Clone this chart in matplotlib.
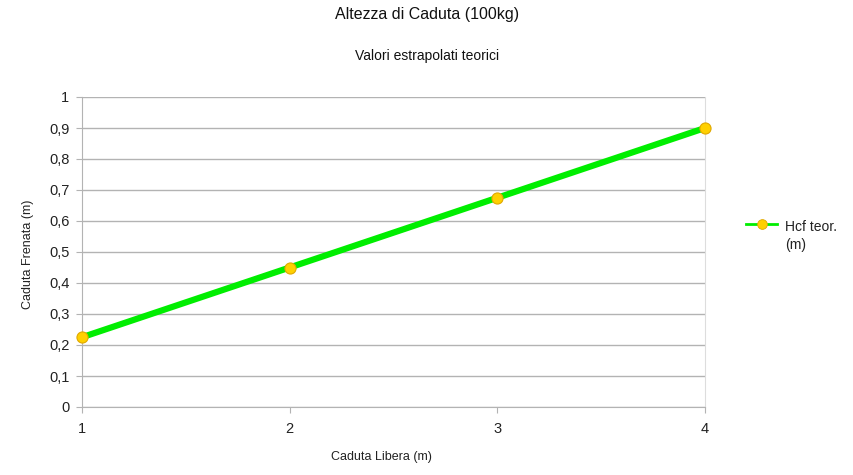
import matplotlib
matplotlib.use("Agg")
import matplotlib.pyplot as plt
from matplotlib.ticker import FuncFormatter, MultipleLocator
from matplotlib.lines import Line2D

plt.rcParams['font.family'] = ['Liberation Sans', 'DejaVu Sans']

caduta_libera = [1, 2, 3, 4]
hcf_teor = [0.225, 0.45, 0.675, 0.9]
series_label = "Hcf teor.\n(m)"

line_color = '#00EE00'
mfc = '#FFD000'
mec = '#E0A800'

fig = plt.figure(figsize=(8.54, 4.75), dpi=100)
ax = fig.add_axes([82/854, 1-407/475, (705-82)/854, (407-97)/475])

ax.plot(caduta_libera, hcf_teor, color=line_color, lw=4.5, solid_capstyle='butt',
        marker='o', markersize=8, markerfacecolor=mfc, markeredgecolor=mec,
        markeredgewidth=0.8, zorder=3, clip_on=False)

ax.set_xlim(1, 4)
ax.set_ylim(0, 1)
ax.yaxis.set_major_locator(MultipleLocator(0.1))
ax.xaxis.set_major_locator(MultipleLocator(1))
ax.yaxis.set_major_formatter(FuncFormatter(lambda v, p: ('%g' % round(v, 1)).replace('.', ',')))
ax.grid(axis='y', color='#B3B3B3', lw=1)
ax.set_axisbelow(True)
ax.spines['top'].set_visible(False)
ax.spines['left'].set_color('#B3B3B3')
ax.spines['bottom'].set_color('#B3B3B3')
ax.spines['right'].set_color('#DDDDDD')
ax.tick_params(axis='both', colors='#B3B3B3', labelcolor='#222222', labelsize=10.5, length=4, direction='out')
ax.tick_params(axis='x', pad=7)
ax.tick_params(axis='y', pad=5)

fig.text(381/854, 1-457/475, 'Caduta Libera (m)', ha='center', va='center', fontsize=9, color='#222222')
fig.text(28/854, 1-254/475, 'Caduta Frenata (m)', ha='center', va='center', fontsize=9,
         color='#222222', rotation=90)

fig.text(0.5, 1-15/475, 'Altezza di Caduta (100kg)', ha='center', va='center', fontsize=11.5, color='#111111')
fig.text(0.5, 1-56/475, 'Valori estrapolati teorici', ha='center', va='center', fontsize=10, color='#111111')

handle = Line2D([], [], color=line_color, lw=2, marker='o', markersize=7,
                markerfacecolor=mfc, markeredgecolor=mec, markeredgewidth=0.6)
leg = fig.legend(handles=[handle], labels=[series_label], loc='upper left',
                 bbox_to_anchor=(734/854, 1-207/475), frameon=False,
                 fontsize=10, handlelength=2.2, handletextpad=0.6)
for t in leg.get_texts():
    t.set_linespacing(1.45)
    t.set_color('#222222')
try:
    for col in leg._legend_handle_box.get_children():
        for hp in col.get_children():
            hp.align = 'top'
except Exception:
    pass

fig.savefig('out.png', dpi=100)
